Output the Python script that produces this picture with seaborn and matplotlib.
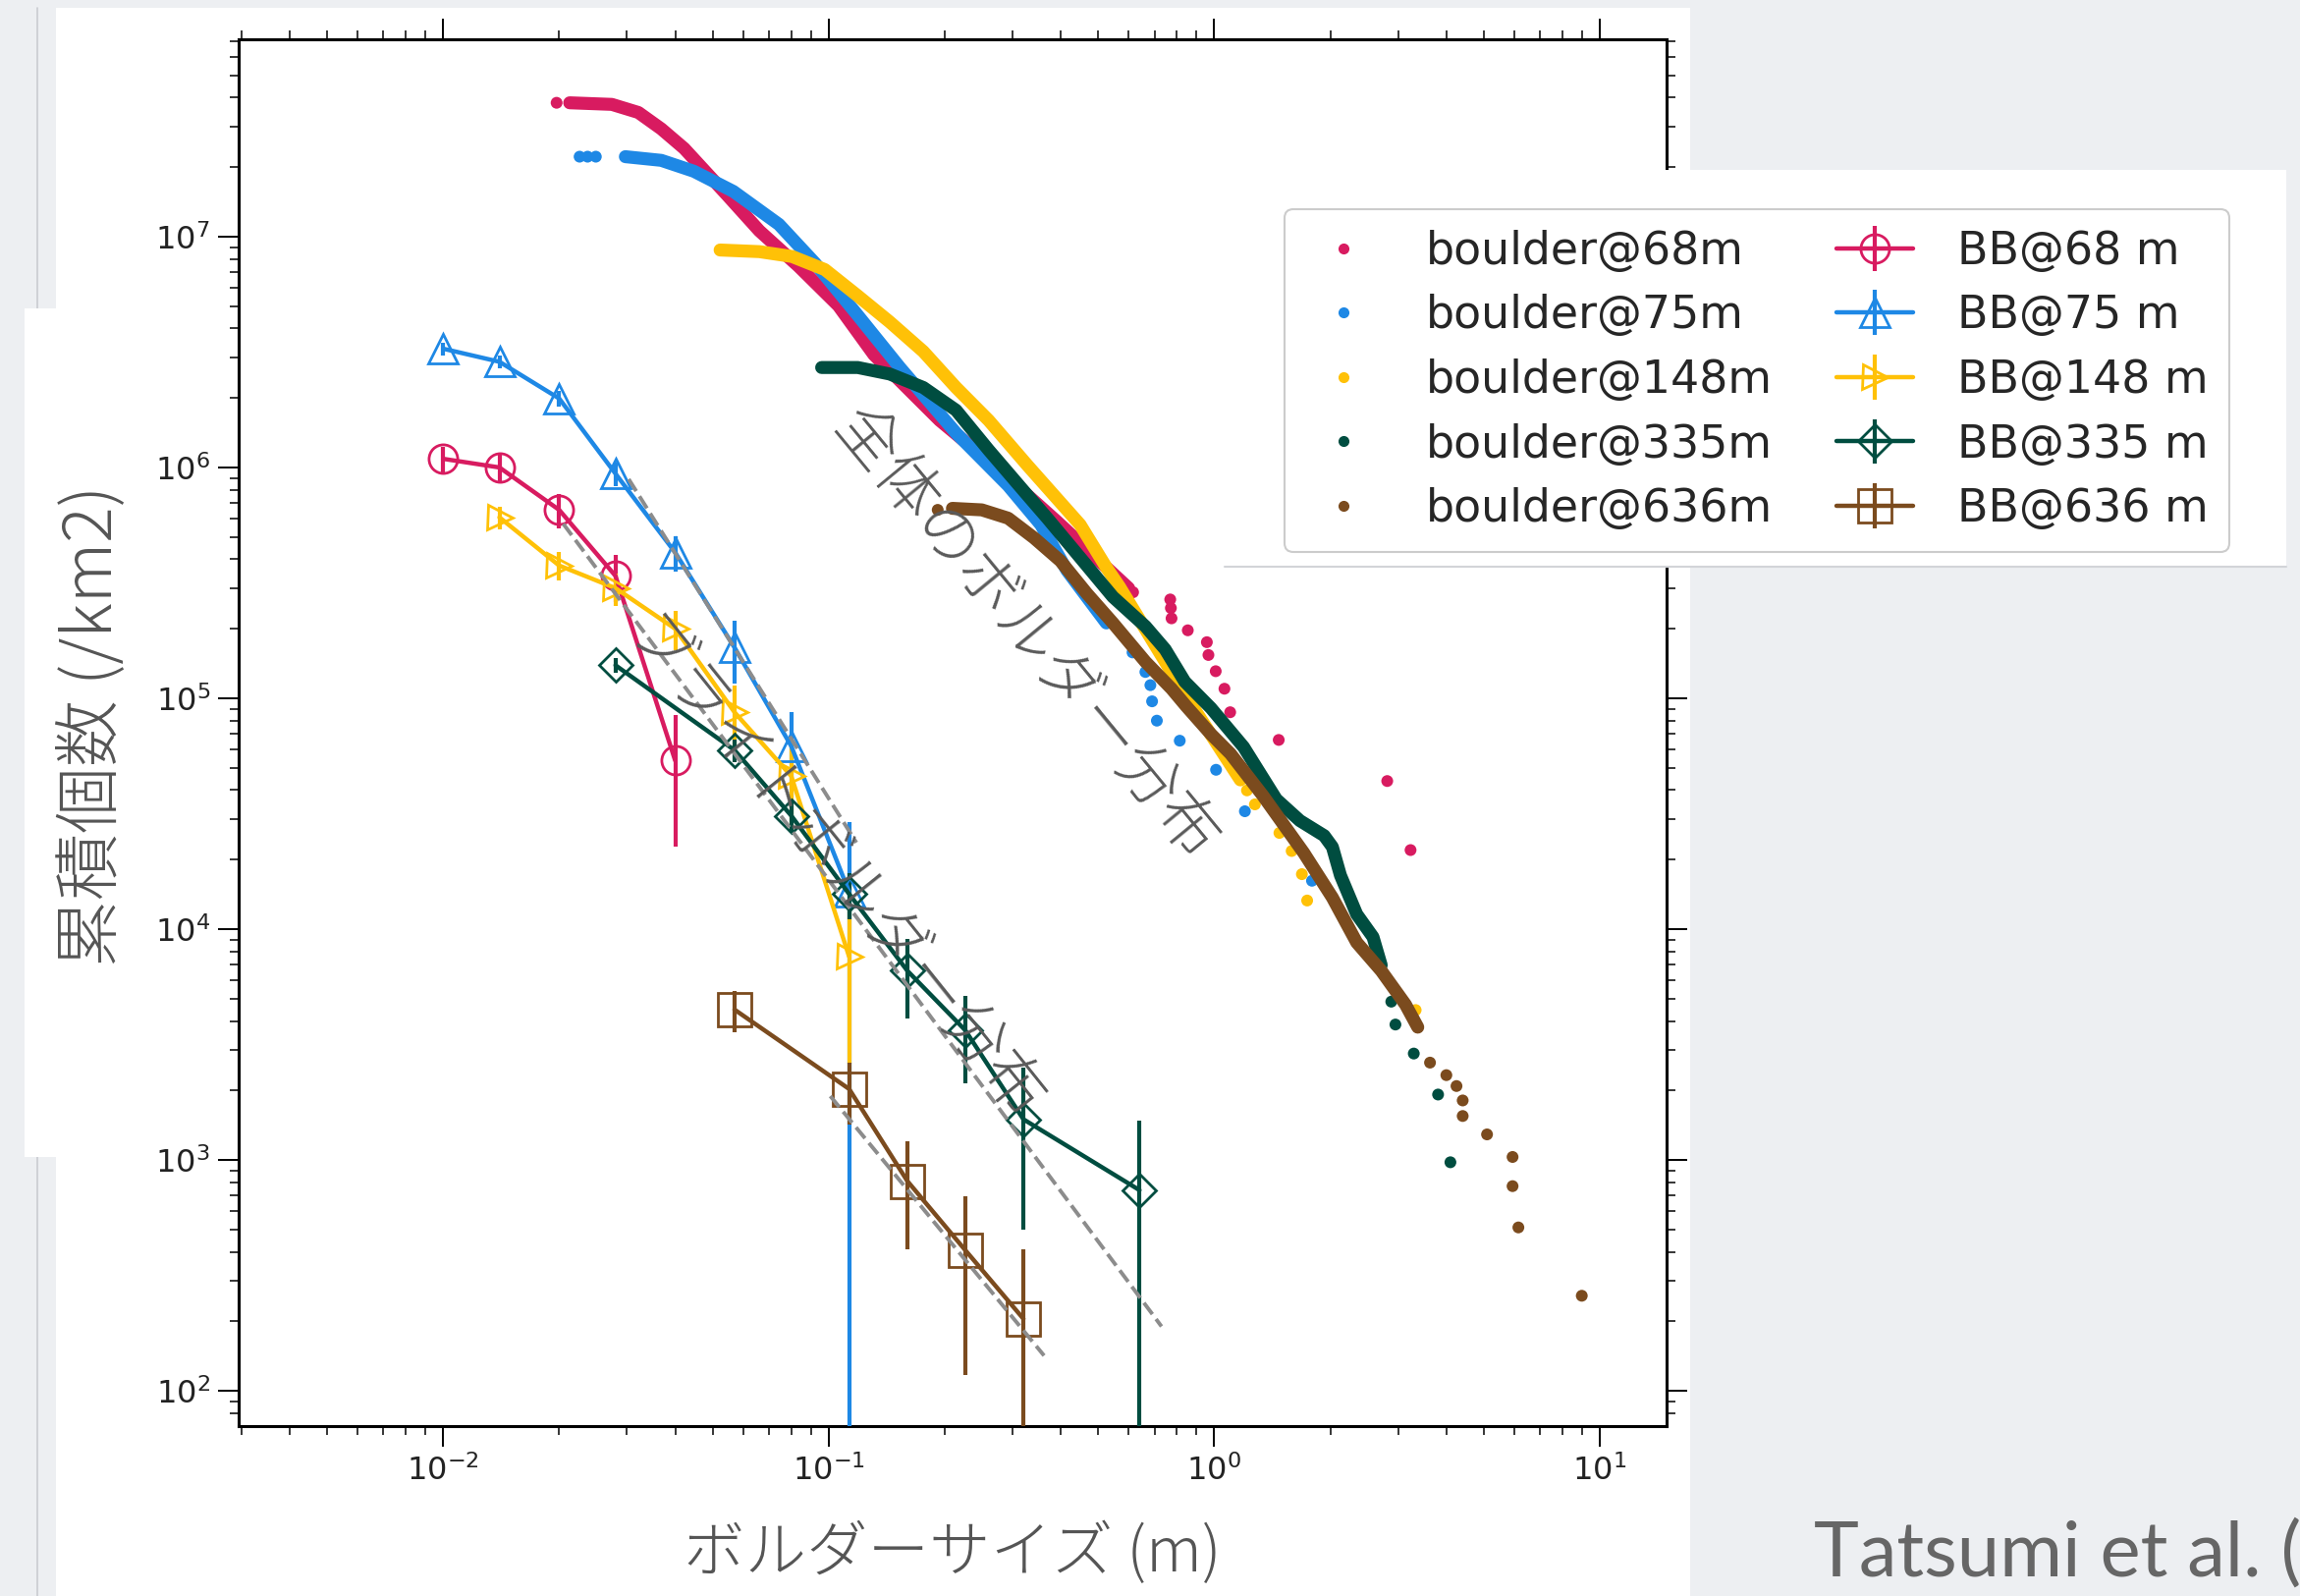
import matplotlib
matplotlib.use('Agg')
import matplotlib.pyplot as plt
import numpy as np
import seaborn as sns
from matplotlib.patches import Rectangle
from matplotlib.lines import Line2D
from matplotlib.ticker import FixedLocator, NullFormatter

# ---------------- data ----------------
c68, c75, c148, c335, c636 = '#D81B60', '#1E88E5', '#FFC107', '#004D40', '#7B4B1E'

# all-boulder cumulative distributions: dense band + isolated dots
b68_band_x = [0.0213, 0.0274, 0.0321, 0.0368, 0.0422, 0.0544, 0.0661, 0.0836, 0.106, 0.131, 0.156, 0.194, 0.28, 0.391, 0.50, 0.60]
b68_band_y = [3.80e7, 3.74e7, 3.45e7, 2.93e7, 2.41e7, 1.52e7, 1.06e7, 7.43e6, 5.02e6, 3.08e6, 2.30e6, 1.60e6, 9.6e5, 5.83e5, 3.98e5, 3.0e5]
b68_dot_x = [0.0197, 0.616, 0.769, 0.772, 0.775, 0.854, 0.957, 0.966, 1.009, 1.063, 1.10, 1.47, 2.81, 3.23]
b68_dot_y = [3.80e7, 2.88e5, 2.68e5, 2.46e5, 2.22e5, 1.97e5, 1.75e5, 1.54e5, 1.31e5, 1.10e5, 8.7e4, 6.6e4, 4.38e4, 2.2e4]

b75_band_x = [0.0297, 0.0368, 0.0447, 0.0566, 0.0743, 0.0922, 0.119, 0.153, 0.214, 0.292, 0.355, 0.415, 0.525]
b75_band_y = [2.22e7, 2.14e7, 1.92e7, 1.57e7, 1.13e7, 7.67e6, 4.56e6, 2.71e6, 1.41e6, 8.35e5, 5.65e5, 3.58e5, 2.12e5]
b75_dot_x = [0.0226, 0.0237, 0.0249, 0.614, 0.663, 0.683, 0.690, 0.710, 0.814, 1.011, 1.201, 1.793]
b75_dot_y = [2.22e7, 2.22e7, 2.22e7, 1.58e5, 1.30e5, 1.14e5, 9.7e4, 8.0e4, 6.55e4, 4.9e4, 3.24e4, 1.62e4]

b148_band_x = [0.0523, 0.0661, 0.0804, 0.0977, 0.119, 0.144, 0.176, 0.214, 0.260, 0.328, 0.449, 0.525, 0.568, 0.872, 1.169]
b148_band_y = [8.75e6, 8.61e6, 8.20e6, 7.20e6, 5.54e6, 4.27e6, 3.18e6, 2.22e6, 1.60e6, 1.02e6, 5.65e5, 3.69e5, 3.04e5, 9.4e4, 4.43e4]
b148_dot_x = [1.216, 1.275, 1.476, 1.588, 1.688, 1.742, 3.33]
b148_dot_y = [3.99e4, 3.47e4, 2.61e4, 2.18e4, 1.73e4, 1.33e4, 4.46e3]

b335_band_x = [0.0959, 0.119, 0.144, 0.176, 0.214, 0.260, 0.328, 0.369, 0.449, 0.546, 0.663, 0.746, 0.839,
               0.980, 1.192, 1.449, 1.668, 1.928, 2.025, 2.125, 2.342, 2.581, 2.711]
b335_band_y = [2.71e6, 2.71e6, 2.54e6, 2.22e6, 1.77e6, 1.19e6, 7.57e5, 6.03e5, 4.07e5, 2.75e5, 2.05e5, 1.63e5, 1.18e5,
               9.08e4, 6.15e4, 3.65e4, 2.95e4, 2.54e4, 2.27e4, 1.71e4, 1.16e4, 9.24e3, 6.98e3]
b335_dot_x = [2.879, 2.951, 3.293, 3.807, 4.098]
b335_dot_y = [4.85e3, 3.86e3, 2.89e3, 1.92e3, 977]

b636_band_x = [0.2094, 0.2496, 0.292, 0.341, 0.399, 0.467, 0.546, 0.663, 0.775, 0.845, 0.980, 1.102, 1.340,
               1.707, 2.025, 2.342, 2.711, 3.134, 3.372]
b636_band_y = [6.65e5, 6.55e5, 6.03e5, 4.95e5, 3.94e5, 2.85e5, 2.12e5, 1.44e5, 1.10e5, 9.26e4, 7.0e4, 5.75e4, 3.77e4,
               2.14e4, 1.37e4, 8.75e3, 6.6e3, 4.71e3, 3.76e3]
b636_dot_x = [0.1918, 3.628, 4.0, 4.25, 4.41, 4.41, 5.10, 5.94, 5.94, 6.15, 8.98]
b636_dot_y = [6.55e5, 2.64e3, 2.33e3, 2.09e3, 1.81e3, 1.55e3, 1.29e3, 1.03e3, 7.7e2, 5.1e2, 2.58e2]

# bright boulders (BB) with error bars
bb68_x = [0.01, 0.014, 0.02, 0.028, 0.04]
bb68_y = [1.09e6, 1.0e6, 6.55e5, 3.39e5, 5.37e4]
bb68_e = [1.4e5, 1.3e5, 1.1e5, 7.8e4, 3.1e4]

bb75_x = [0.01, 0.014, 0.02, 0.028, 0.04, 0.057, 0.08, 0.113]
bb75_y = [3.27e6, 2.87e6, 1.99e6, 9.4e5, 4.28e5, 1.66e5, 6.2e4, 1.45e4]
bb75_e = [2.1e5, 1.9e5, 1.6e5, 1.1e5, 7.5e4, 5.0e4, 2.5e4, 1.45e4]

bb148_x = [0.014, 0.02, 0.028, 0.04, 0.057, 0.08, 0.113]
bb148_y = [6.08e5, 3.76e5, 3.0e5, 2.0e5, 8.7e4, 4.6e4, 7.6e3]
bb148_e = [6.8e4, 5.3e4, 4.8e4, 3.9e4, 2.6e4, 1.9e4, 5.0e3]

bb335_x = [0.028, 0.057, 0.08, 0.113, 0.16, 0.226, 0.32, 0.64]
bb335_y = [1.39e5, 5.96e4, 3.1e4, 1.42e4, 6.6e3, 3.65e3, 1.5e3, 7.4e2]
bb335_e = [1.0e4, 6.6e3, 4.8e3, 3.2e3, 2.5e3, 1.5e3, 1.0e3, 7.4e2]

bb636_x = [0.057, 0.113, 0.16, 0.226, 0.32]
bb636_y = [4.48e3, 2.03e3, 8.1e2, 4.07e2, 2.05e2]
bb636_e = [9.0e2, 6.0e2, 4.0e2, 2.9e2, 2.05e2]

# power-law fits (dashed)
fit1_x, fit1_y = [0.0303, 0.118], [8.9e5, 2.37e4]
fit2_x, fit2_y = [0.0205, 0.73], [5.7e5, 1.9e2]
fit3_x, fit3_y = [0.101, 0.362], [1.89e3, 1.42e2]

boulder_labels = ['boulder@68m', 'boulder@75m', 'boulder@148m', 'boulder@335m', 'boulder@636m']
bb_labels = ['BB@68 m', 'BB@75 m', 'BB@148 m', 'BB@335 m', 'BB@636 m']

x_major = [1e-2, 1e-1, 1e0, 1e1]
y_major = [1e2, 1e3, 1e4, 1e5, 1e6, 1e7]
x_lim = (2.95e-3, 14.9)
y_lim = (70.3, 7.16e7)

xlabel = 'ボルダーサイズ (m)'
ylabel = '累積個数 (/km2)'
note_all = '全体のボルダー分布'
note_bb = 'ブライトボルダー分布'
credit = 'Tatsumi et al. (2021)'

# ---------------- style ----------------
sns.set_theme(style='ticks')
plt.rcParams['font.family'] = ['DejaVu Sans']
jp = ['Noto Sans CJK JP', 'DejaVu Sans']

W, H = 2342, 1625
fig = plt.figure(figsize=(W / 100, H / 100), dpi=100)
fig.patch.set_facecolor('#EDEFF2')

def fx(px):
    return px / W

def fy(py):
    return 1 - py / H

# slide panels
fig.add_artist(Rectangle((fx(57), 0), fx(1721) - fx(57), fy(8), transform=fig.transFigure,
                         facecolor='white', edgecolor='none', zorder=-3))
fig.add_artist(Line2D([fx(38), fx(38)], [0, fy(8)], transform=fig.transFigure,
                      color='#C9CCD1', lw=1.2, zorder=-3))
fig.add_artist(Rectangle((fx(25), fy(1178)), fx(62) - fx(25), fy(314) - fy(1178), transform=fig.transFigure,
                         facecolor='white', edgecolor='none', zorder=-2))

ax = fig.add_axes([fx(243), fy(1452), fx(1697) - fx(243), fy(40) - fy(1452)])
ax.set_facecolor('white')
ax.set_xscale('log')
ax.set_yscale('log', nonpositive='clip')

# boulders
bsets = [
    (c68, b68_band_x, b68_band_y, b68_dot_x, b68_dot_y),
    (c75, b75_band_x, b75_band_y, b75_dot_x, b75_dot_y),
    (c148, b148_band_x, b148_band_y, b148_dot_x, b148_dot_y),
    (c335, b335_band_x, b335_band_y, b335_dot_x, b335_dot_y),
    (c636, b636_band_x, b636_band_y, b636_dot_x, b636_dot_y),
]
for c, bx, by, dx, dy in bsets:
    sns.lineplot(x=bx, y=by, ax=ax, color=c, linewidth=9.5, sort=False, estimator=None,
                 solid_capstyle='round', solid_joinstyle='round', legend=False, zorder=2)
    sns.scatterplot(x=dx, y=dy, ax=ax, color=c, s=75, edgecolor='none', linewidth=0,
                    legend=False, zorder=2)

# bright boulders
bbsets = [
    (c68, 'o', 21, bb68_x, bb68_y, bb68_e),
    (c75, '^', 22, bb75_x, bb75_y, bb75_e),
    (c148, '>', 18, bb148_x, bb148_y, bb148_e),
    (c335, 'D', 17, bb335_x, bb335_y, bb335_e),
    (c636, 's', 25, bb636_x, bb636_y, bb636_e),
]
containers = []
for (c, m, ms, x, y, e), lab in zip(bbsets, bb_labels):
    cont = ax.errorbar(x, y, yerr=e, fmt='-', marker=m, ms=ms, mfc='none', mec=c, mew=2,
                       color=c, lw=3.2, elinewidth=3, capsize=0, label=lab, zorder=3)
    containers.append(cont)

# fits
for xs, ys in [(fit1_x, fit1_y), (fit2_x, fit2_y), (fit3_x, fit3_y)]:
    ax.plot(xs, ys, color='#8C8C8C', lw=2.8, ls='--', zorder=4)

ax.set_xlim(*x_lim)
ax.set_ylim(*y_lim)

x_minor = [m * d for d in [1e-3, 1e-2, 1e-1, 1e0, 1e1] for m in range(2, 10) if x_lim[0] <= m * d <= x_lim[1]]
y_minor = [m * d for d in [1e1, 1e2, 1e3, 1e4, 1e5, 1e6, 1e7] for m in range(2, 10) if y_lim[0] <= m * d <= y_lim[1]]
ax.xaxis.set_major_locator(FixedLocator(x_major))
ax.yaxis.set_major_locator(FixedLocator(y_major))
ax.xaxis.set_minor_locator(FixedLocator(x_minor))
ax.yaxis.set_minor_locator(FixedLocator(y_minor))
ax.xaxis.set_minor_formatter(NullFormatter())
ax.yaxis.set_minor_formatter(NullFormatter())
ax.tick_params(axis='both', which='major', direction='out', length=15, width=1.4, top=True, right=True,
               labelsize=23, labelcolor='#222222', color='black', pad=6)
ax.tick_params(axis='both', which='minor', direction='out', length=6.5, width=1.1, top=True, right=True,
               color='black')
for s in ax.spines.values():
    s.set_linewidth(2.2)
    s.set_color('black')
ax.grid(False)

ax.set_xlabel(xlabel, fontsize=45, family=jp, weight='light', color='#555555')
ax.xaxis.set_label_coords(0.5, -0.070)
ax.set_ylabel(ylabel, fontsize=49, family=jp, weight='light', color='#555555')
ax.yaxis.set_label_coords(-0.078, 0.505)

ax.text(0.5502, 0.5708, note_all, transform=ax.transAxes, rotation=-50.5, rotation_mode='anchor',
        ha='center', va='center', fontsize=46, family=jp, weight='light', color='#5A5A5A', zorder=10)
ax.text(0.4154, 0.3994, note_bb, transform=ax.transAxes, rotation=-51.3, rotation_mode='anchor',
        ha='center', va='center', fontsize=46, family=jp, weight='light', color='#5A5A5A', zorder=10)

# legend box on the slide
fig.add_artist(Rectangle((fx(1247), fy(577)), fx(2328) - fx(1247), fy(173) - fy(577), transform=fig.transFigure,
                         facecolor='white', edgecolor='none', zorder=5))
fig.add_artist(Line2D([fx(1247), fx(2328)], [fy(577), fy(577)], transform=fig.transFigure,
                      color='#D2D4D8', lw=1.5, zorder=5.5))

bhandles = [Line2D([], [], ls='none', marker='o', ms=7, color=c) for c in [c68, c75, c148, c335, c636]]
leg = fig.legend(bhandles + containers, boulder_labels + bb_labels, ncol=2, loc='upper left',
                 bbox_to_anchor=(fx(1308), fy(213)), bbox_transform=fig.transFigure,
                 fontsize=33, frameon=True, handlelength=1.7, handletextpad=1.0, columnspacing=1.4,
                 labelspacing=0.45, borderpad=0.45, borderaxespad=0, fancybox=True)
leg.get_frame().set_edgecolor('#CCCCCC')
leg.get_frame().set_linewidth(1.5)
leg.get_frame().set_facecolor('white')
leg.get_frame().set_alpha(1)
leg.set_zorder(7)

fig.text(fx(1847), fy(1605), credit, fontsize=56, family=['Lato', 'DejaVu Sans'], weight='normal',
         color='#666666', va='baseline', ha='left')

fig.savefig('out.png', dpi=100, facecolor=fig.get_facecolor())
